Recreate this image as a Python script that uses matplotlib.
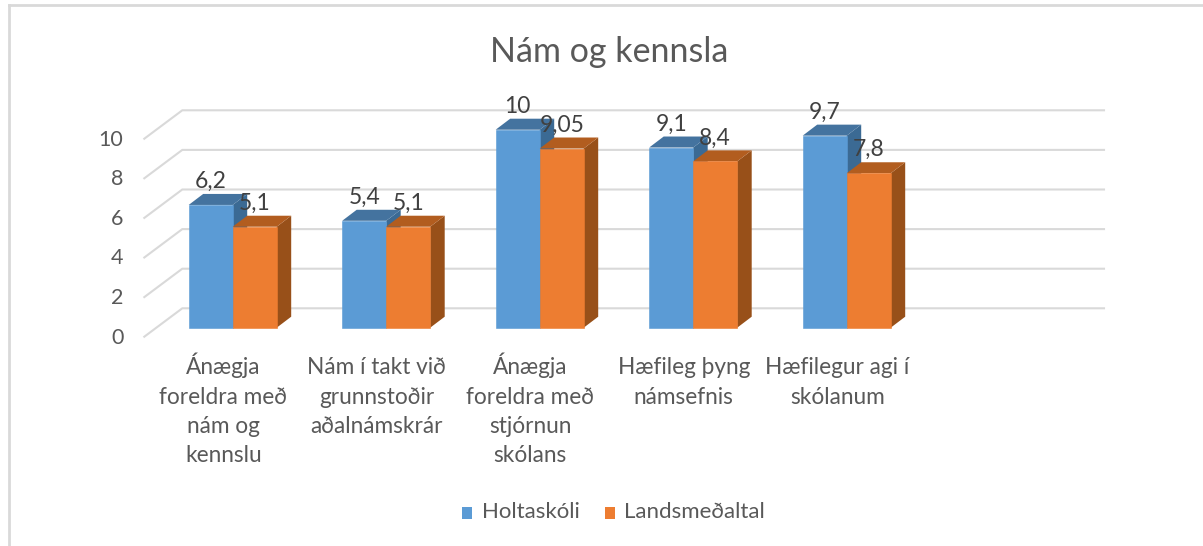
import numpy as np
import matplotlib
matplotlib.use("Agg")
import matplotlib.pyplot as plt
from matplotlib.patches import Polygon, Rectangle

plt.rcParams["font.family"] = ["Lato", "DejaVu Sans"]

title = "Nám og kennsla"
categories = [
    "Ánægja\nforeldra með\nnám og\nkennslu",
    "Nám í takt við\ngrunnstoðir\naðalnámskrár",
    "Ánægja\nforeldra með\nstjórnun\nskólans",
    "Hæfileg þyng\nnámsefnis",
    "Hæfilegur agi í\nskólanum",
]
series_names = ["Holtaskóli", "Landsmeðaltal"]
holtaskoli = [6.2, 5.4, 10, 9.1, 9.7]
landsmedaltal = [5.1, 5.1, 9.05, 8.4, 7.8]
holta_labels = ["6,2", "5,4", "10", "9,1", "9,7"]
lands_labels = ["5,1", "5,1", "9,05", "8,4", "7,8"]
y_ticks = [0, 2, 4, 6, 8, 10]

W, H = 1203, 546
# pixel layout of the excel style pseudo 3d chart
x0_px = 232.7     # centre of first category
step_px = 153.5   # px per category
base_px = 327.7   # y=0 on the front of the bars
unit_px = 19.8    # px per y unit

text_col = "#595959"
grid_col = "#D9D9D9"
blue = ("#5B9BD5", "#44739F", "#3B6A94")
orange = ("#ED7D31", "#B25D1F", "#985019")

fig = plt.figure(figsize=(W / 100, H / 100), dpi=100)
ax = fig.add_axes([0, 0, 1, 1])
# limits chosen so that one x unit is a category and one y unit is a score
ax.set_xlim((0 - x0_px) / step_px, (W - x0_px) / step_px)
ax.set_ylim((base_px - H) / unit_px, base_px / unit_px)
ax.axis("off")

bar_w = 44 / step_px
bar_dx = 14.5 / step_px
bar_dy = 11 / unit_px
wall_dx = 38 / step_px
wall_dy = 28.4 / unit_px
floor_x = (144.3 - x0_px) / step_px
floor_y = -9 / unit_px
right_x = (1104 - x0_px) / step_px

# back wall grid lines with the slanted piece on the left side
for t in y_ticks:
    ax.plot([floor_x, floor_x + wall_dx, right_x],
            [t + floor_y, t + floor_y + wall_dy, t + floor_y + wall_dy],
            color=grid_col, lw=1.5, zorder=1, solid_joinstyle="miter")
    ax.text(floor_x - 21 / step_px, t + floor_y - 0.05, str(t), color=text_col,
            fontsize=15.5, ha="right", va="center", zorder=6)


def draw_bar(left, val, cols, z):
    front, top, side = cols
    ax.add_patch(Polygon([(left + bar_w, 0), (left + bar_w + bar_dx, bar_dy),
                          (left + bar_w + bar_dx, val + bar_dy), (left + bar_w, val)],
                         fc=side, ec="none", zorder=z))
    ax.add_patch(Polygon([(left, val), (left + bar_dx, val + bar_dy),
                          (left + bar_w + bar_dx, val + bar_dy), (left + bar_w, val)],
                         fc=top, ec="none", zorder=z))
    ax.bar(left, val, width=bar_w, align="edge", color=front, zorder=z + 0.1,
           edgecolor=front, linewidth=0.4)


for i in range(len(categories)):
    draw_bar(i - bar_w, holtaskoli[i], blue, 2)
    draw_bar(i, landsmedaltal[i], orange, 3)
    ax.text(i - bar_w / 2, holtaskoli[i] + 0.86, holta_labels[i],
            color="#404040", fontsize=16.5, ha="center", va="baseline", zorder=6)
    ax.text(i + bar_w / 2, landsmedaltal[i] + 0.86, lands_labels[i],
            color="#404040", fontsize=16.5, ha="center", va="baseline", zorder=6)
    # one text per line, accents would shift a top aligned block
    for j, line in enumerate(categories[i].split("\n")):
        ax.text(i - 9.5 / step_px, -2.36 - j * 29.3 / unit_px, line, color=text_col,
                fontsize=16.3, ha="center", va="baseline", zorder=6)

fig.text(609.5 / W, 1 - 52 / H, title, color=text_col, fontsize=24.5,
         ha="center", va="center")

# legend drawn by hand to keep the small squares where excel puts them
for px, name, col in [(462, series_names[0], blue[0]), (605, series_names[1], orange[0])]:
    fig.add_artist(Rectangle((px / W, 1 - 519 / H), 10 / W, 12 / H,
                             transform=fig.transFigure, fc=col, ec="none"))
    fig.text((px + 19.5) / W, 1 - 512 / H, name, color=text_col, fontsize=16,
             ha="left", va="center")

# chart frame, cropped on the screenshot
fig.add_artist(plt.Line2D([8.5 / W, 8.5 / W], [0, 1 - 4.5 / H], color=grid_col, lw=2))
fig.add_artist(plt.Line2D([8.5 / W, 1], [1 - 4.5 / H, 1 - 4.5 / H], color=grid_col, lw=2))

fig.savefig("out.png", dpi=100)
